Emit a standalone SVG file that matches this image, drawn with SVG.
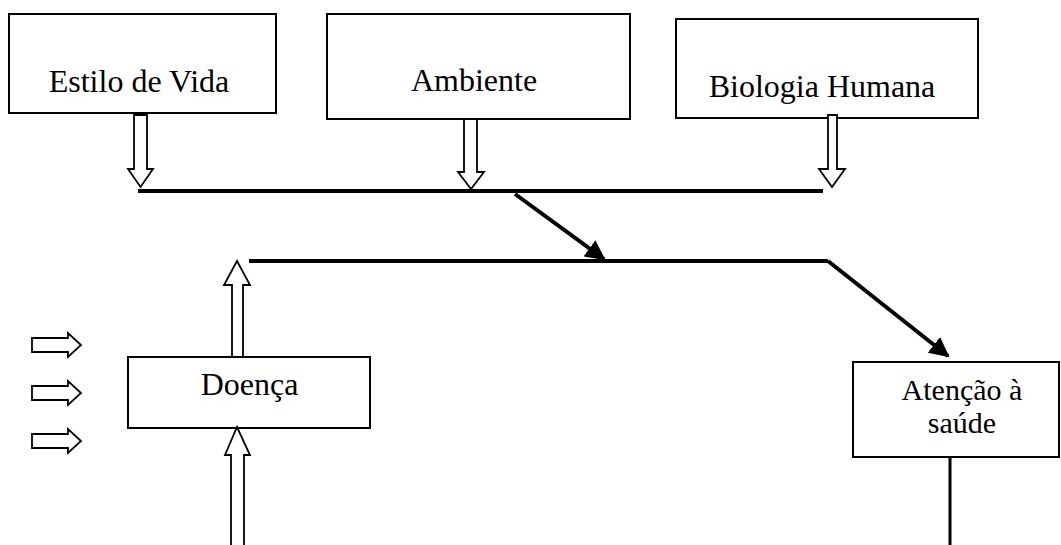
<svg xmlns="http://www.w3.org/2000/svg" width="1061" height="545" viewBox="0 0 1061 545">
  <style>
    .box { fill: #fff; stroke: #000; stroke-width: 2; }
    .lbl { font-family: "Liberation Serif", "Times New Roman", serif; font-size: 32px; fill: #000; text-anchor: middle; }
    .small { font-size: 30px; }
    .hollow { fill: #fff; stroke: #000; stroke-width: 1.8; stroke-linejoin: miter; }
    .bar { stroke: #000; stroke-width: 4; fill: none; }
  </style>
  <defs>
    <marker id="head" viewBox="0 0 10 10" refX="9" refY="5" markerWidth="5" markerHeight="5" markerUnits="strokeWidth" orient="auto">
      <path d="M0,0 L10,5 L0,10 Z" fill="#000"/>
    </marker>
  </defs>

  <!-- factor boxes -->
  <g id="estilo-de-vida">
    <rect class="box" x="9" y="14" width="267" height="99"/>
    <text class="lbl" x="139" y="92">Estilo de Vida</text>
  </g>
  <g id="ambiente">
    <rect class="box" x="327" y="14" width="303" height="105"/>
    <text class="lbl" x="474" y="91">Ambiente</text>
  </g>
  <g id="biologia-humana">
    <rect class="box" x="676" y="19" width="302" height="99"/>
    <text class="lbl" x="822" y="97">Biologia Humana</text>
  </g>
  <g id="doenca">
    <rect class="box" x="128" y="357" width="242" height="71"/>
    <text class="lbl" x="249.5" y="395">Doença</text>
  </g>
  <g id="atencao-saude">
    <rect class="box" x="853" y="362" width="206" height="95"/>
    <text class="lbl small" x="962" y="400">Atenção à</text>
    <text class="lbl small" x="962" y="433">saúde</text>
  </g>

  <!-- connectors -->
  <g id="connectors">
    <!-- hollow arrows from the factor boxes down to the first bar -->
    <path class="hollow" d="M134,115 H147 V169 H153 L140.5,187 L128,169 H134 Z"/>
    <path class="hollow" d="M464,119 H477 V172 H484 L471,189 L458,172 H464 Z"/>
    <path class="hollow" d="M828,115 H837 V169 H845 L832,187 L819,169 H828 Z"/>

    <!-- bars and black arrows -->
    <line class="bar" x1="138" y1="191" x2="823" y2="191"/>
    <line class="bar" x1="515" y1="194" x2="604" y2="259" marker-end="url(#head)"/>
    <line class="bar" x1="249" y1="261" x2="828" y2="261"/>
    <line class="bar" x1="828" y1="261" x2="948" y2="356" marker-end="url(#head)"/>
    <line stroke="#000" stroke-width="3" x1="950" y1="457" x2="950" y2="545"/>

    <!-- hollow arrows around Doença -->
    <path class="hollow" d="M232,357 V285 H224 L237,261 L250,285 H243 V357 Z"/>
    <path class="hollow" d="M231,547 V455 H225 L237,427 L250,455 H244 V547 Z"/>

    <!-- small hollow arrows on the left -->
    <path class="hollow" d="M32,338 H68 V333 L81,345 L68,357 V352 H32 Z"/>
    <path class="hollow" d="M32,386 H68 V381 L81,393 L68,405 V400 H32 Z"/>
    <path class="hollow" d="M32,434 H68 V429 L81,441 L68,453 V448 H32 Z"/>
  </g>
</svg>
